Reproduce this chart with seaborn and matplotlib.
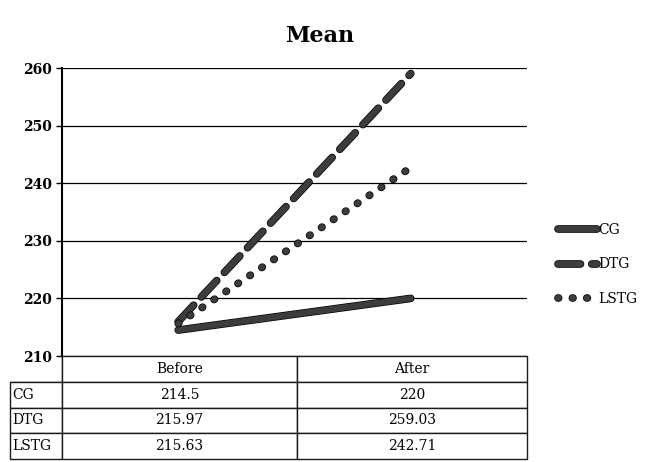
import matplotlib
matplotlib.use("Agg")
import matplotlib.pyplot as plt
import matplotlib.patheffects as pe
import seaborn as sns
import pandas as pd

categories = ["Before", "After"]
groups = ["CG", "DTG", "LSTG"]
cg = [214.5, 220]
dtg = [215.97, 259.03]
lstg = [215.63, 242.71]
cg_labels = ["214.5", "220"]
dtg_labels = ["215.97", "259.03"]
lstg_labels = ["215.63", "242.71"]
yticks = [210, 220, 230, 240, 250, 260]

sns.set_theme(style="white")
plt.rcParams['font.family'] = ['DejaVu Serif']
plt.rcParams['text.color'] = 'black'
plt.rcParams['ytick.color'] = 'black'

fig = plt.figure(figsize=(6.45, 4.62), dpi=100)
W, H = 645, 462
L, R, T, B = 62, 527, 68, 356
ax = fig.add_axes([L / W, 1 - B / H, (R - L) / W, (B - T) / H])

df = pd.DataFrame({
    "phase": categories * 3,
    "value": cg + dtg + lstg,
    "group": [g for g in groups for _ in categories],
})

styles = {"CG": "-", "DTG": (0, (3.6, 1.8)), "LSTG": (0, (0.1, 2.2))}
for g in groups:
    sub = df[df.group == g]
    sns.lineplot(data=sub, x="phase", y="value", ax=ax, color="#3c3c3c",
                 linewidth=4.5, linestyle=styles[g], label=g, sort=False,
                 solid_capstyle="round", dash_capstyle="round",
                 path_effects=[pe.Stroke(linewidth=5.5, foreground="black"), pe.Normal()])

ax.set_xlim(-0.5, 1.5)
ax.set_ylim(210, 260)
ax.set_yticks(yticks)
ax.set_yticklabels([str(t) for t in yticks], fontsize=10, fontweight="bold", color="black")
ax.set_xticks([])
ax.set_xlabel("")
ax.set_ylabel("")
ax.yaxis.grid(True, color="black", linewidth=0.9)
ax.set_axisbelow(True)
for s in ["top", "right", "bottom"]:
    ax.spines[s].set_visible(False)
ax.spines["left"].set_color("black")
ax.spines["left"].set_linewidth(1.5)
ax.tick_params(axis="y", length=4, color="black", width=1, left=True, pad=3)

ax.set_title("Mean", fontsize=16, fontweight="bold", pad=19, x=0.555, color="black")

leg = ax.legend(loc="center left", bbox_to_anchor=(1.04, 0.318), frameon=False,
                fontsize=10, handlelength=2.8, handletextpad=0.1, labelspacing=1.45)
for t in leg.get_texts():
    t.set_color("black")

# table
cell_text = [["", categories[0], categories[1]],
             [groups[0]] + cg_labels,
             [groups[1]] + dtg_labels,
             [groups[2]] + lstg_labels]
axw, axh = R - L, B - T
tL, tB = 10, 459
tab = ax.table(cellText=cell_text, cellLoc="center",
               colWidths=[(L - tL) / (R - tL), (297 - L) / (R - tL), (R - 297) / (R - tL)],
               bbox=[(tL - L) / axw, -(tB - B) / axh, (R - tL) / axw, (tB - B) / axh])
tab.auto_set_font_size(False)
for (r, c), cell in tab.get_celld().items():
    cell.set_fontsize(10)
    cell.set_linewidth(1.0)
    cell.get_text().set_color("black")
    if c == 0:
        cell.get_text().set_ha("left")
        cell._loc = "left"
        cell.PAD = 0.04
    if r == 0 and c == 0:
        cell.visible_edges = "BR"

fig.savefig("out.png", dpi=100)
